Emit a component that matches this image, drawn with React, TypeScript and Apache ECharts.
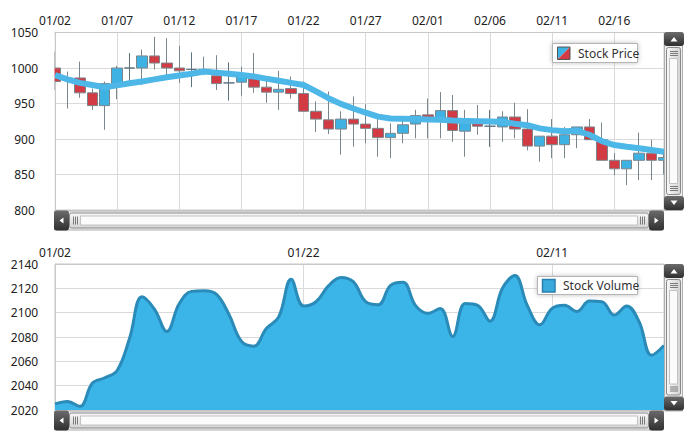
import React, { useEffect, useRef } from "react";
import * as echarts from "echarts";

const dates = [
  "01/02","01/03","01/04","01/05","01/06","01/07","01/08","01/09","01/10","01/11",
  "01/12","01/13","01/14","01/15","01/16","01/17","01/18","01/19","01/20","01/21",
  "01/22","01/23","01/24","01/25","01/26","01/27","01/28","01/29","01/30","01/31",
  "02/01","02/02","02/03","02/04","02/05","02/06","02/07","02/08","02/09","02/10",
  "02/11","02/12","02/13","02/14","02/15","02/16","02/17","02/18","02/19","02/20",
];

// [open, close, low, high]
const prices = [
  [1000, 981, 969, 1023], [986, 984, 943, 995], [986, 965, 958, 1009], [965, 947, 941, 971],
  [947, 978, 913, 981], [978, 1000, 956, 1003], [1000, 1000, 979, 1021], [1000, 1017, 976, 1026],
  [1017, 1007, 998, 1044], [1007, 1000, 989, 1042], [1000, 996, 979, 1031], [998, 998, 973, 1022],
  [998, 995, 990, 1016], [989, 978, 969, 1018], [979, 979, 954, 1008], [980, 990, 961, 1002],
  [985, 973, 965, 1021], [973, 966, 951, 983], [966, 970, 941, 996], [971, 964, 957, 988],
  [964, 939, 939, 981], [939, 928, 910, 953], [927, 914, 907, 967], [914, 928, 878, 939],
  [928, 921, 889, 960], [921, 915, 894, 949], [915, 902, 875, 931], [902, 908, 873, 922],
  [908, 920, 894, 927], [921, 933, 901, 941], [934, 929, 901, 957], [926, 940, 901, 966],
  [940, 912, 896, 962], [911, 928, 875, 941], [922, 918, 906, 948], [918, 918, 889, 941],
  [917, 931, 896, 939], [931, 914, 901, 951], [914, 890, 884, 942], [890, 904, 868, 904],
  [904, 892, 873, 928], [892, 906, 873, 917], [906, 917, 887, 917], [917, 899, 899, 928],
  [899, 870, 870, 923], [870, 858, 849, 880], [858, 870, 835, 870], [870, 880, 842, 909],
  [880, 870, 842, 899], [870, 874, 850, 885],
];

const movingAvg = [
  990, 984, 979, 976, 973, 975.5, 978.5, 981, 984, 987,
  989.5, 992, 995, 993.5, 992, 990, 988, 985, 982, 979,
  976, 967, 957.5, 949.5, 943, 937, 931.5, 929, 928.5, 928,
  927.5, 927, 926, 925.5, 925, 924.5, 924, 921.5, 919.5, 915,
  912.5, 911, 911.5, 906, 897, 891.5, 889, 887, 884.5, 882,
];

const volumes = [
  2025, 2027, 2023, 2042, 2046.5, 2052.5, 2079, 2113, 2103, 2084.5,
  2107.5, 2117.5, 2118, 2115, 2098.5, 2076.5, 2072.5, 2087, 2096.5, 2127.5,
  2105.5, 2109, 2122, 2129, 2125.5, 2109, 2106.5, 2122.5, 2125, 2106,
  2099.5, 2103.5, 2080.5, 2107.5, 2106, 2093, 2120, 2130.5, 2106, 2090,
  2103.5, 2106, 2101, 2109.5, 2109, 2098, 2105.5, 2092.5, 2065, 2073,
];

const priceTicks = { min: 800, max: 1050, interval: 50 };
const volumeTicks = { min: 2020, max: 2140, interval: 20 };

const FONT = '"Noto Sans", sans-serif';

function darkGrad() {
  return new echarts.graphic.LinearGradient(0, 0, 0, 1, [
    { offset: 0, color: "#6b6b6b" },
    { offset: 1, color: "#2f2f2f" },
  ]);
}

function hScroll(y: number): any[] {
  const els: any[] = [];
  els.push({ type: "rect", shape: { x: 54.5, y: y + 0.5, width: 609, height: 19 }, style: { fill: "#ededed", stroke: "#b0b0b0", lineWidth: 1 } });
  els.push({
    type: "rect",
    shape: { x: 69.5, y: y + 2.5, width: 579, height: 15, r: 2 },
    style: {
      fill: new echarts.graphic.LinearGradient(0, 0, 0, 1, [
        { offset: 0, color: "#f7f7f7" },
        { offset: 1, color: "#d4d4d4" },
      ]),
      stroke: "#8a8a8a",
      lineWidth: 1,
    },
  });
  els.push({ type: "rect", shape: { x: 80.5, y: y + 5.5, width: 557, height: 9 }, style: { fill: "#fbfbfb", stroke: "#c2c2c2", lineWidth: 1 } });
  [73.5, 75.5, 77.5, 640.5, 642.5, 644.5].forEach((gx) =>
    els.push({ type: "line", shape: { x1: gx, y1: y + 6, x2: gx, y2: y + 14 }, style: { stroke: "#7a7a7a", lineWidth: 1 } })
  );
  els.push({ type: "rect", shape: { x: 54, y: y, width: 15, height: 20, r: 3 }, style: { fill: darkGrad() } });
  els.push({ type: "polygon", shape: { points: [[63.5, y + 7], [63.5, y + 13], [59.5, y + 10]] }, style: { fill: "#ffffff" } });
  els.push({ type: "rect", shape: { x: 649, y: y, width: 15, height: 20, r: 3 }, style: { fill: darkGrad() } });
  els.push({ type: "polygon", shape: { points: [[654.5, y + 7], [654.5, y + 13], [658.5, y + 10]] }, style: { fill: "#ffffff" } });
  return els;
}

function vScroll(top: number, bottom: number): any[] {
  const els: any[] = [];
  const h = bottom - top;
  els.push({ type: "rect", shape: { x: 664.5, y: top + 0.5, width: 18, height: h }, style: { fill: "#ededed", stroke: "#b0b0b0", lineWidth: 1 } });
  els.push({
    type: "rect",
    shape: { x: 666.5, y: top + 15.5, width: 14, height: h - 31, r: 2 },
    style: {
      fill: new echarts.graphic.LinearGradient(0, 0, 1, 0, [
        { offset: 0, color: "#f7f7f7" },
        { offset: 1, color: "#d4d4d4" },
      ]),
      stroke: "#8a8a8a",
      lineWidth: 1,
    },
  });
  els.push({ type: "rect", shape: { x: 669.5, y: top + 26.5, width: 8, height: h - 53 }, style: { fill: "#fbfbfb", stroke: "#c2c2c2", lineWidth: 1 } });
  [top + 19.5, top + 21.5, top + 23.5, bottom - 23.5, bottom - 21.5, bottom - 19.5].forEach((gy) =>
    els.push({ type: "line", shape: { x1: 670, y1: gy, x2: 678, y2: gy }, style: { stroke: "#7a7a7a", lineWidth: 1 } })
  );
  els.push({ type: "rect", shape: { x: 664, y: top, width: 20, height: 14, r: 3 }, style: { fill: darkGrad() } });
  els.push({ type: "polygon", shape: { points: [[670.5, top + 9.5], [677.5, top + 9.5], [674, top + 5]] }, style: { fill: "#ffffff" } });
  els.push({ type: "rect", shape: { x: 664, y: bottom - 14, width: 20, height: 14, r: 3 }, style: { fill: darkGrad() } });
  els.push({ type: "polygon", shape: { points: [[670.5, bottom - 9.5], [677.5, bottom - 9.5], [674, bottom - 5]] }, style: { fill: "#ffffff" } });
  return els;
}

function legendBox(x: number, y: number, w: number, h: number): any {
  return {
    type: "rect",
    shape: { x: x + 0.5, y: y + 0.5, width: w, height: h },
    style: { fill: "#ffffff", stroke: "#b4b4b4", lineWidth: 1, shadowBlur: 5, shadowColor: "rgba(0,0,0,0.25)" },
  };
}

export default function App() {
  const ref = useRef<HTMLDivElement>(null);

  useEffect(() => {
    document.body.style.margin = "0";
    if (!ref.current) return;
    const chart = echarts.init(ref.current, null, { renderer: "svg" });

    const axisLabel = { color: "#222", fontSize: 12, fontFamily: FONT };
    const gridLine = { show: true, lineStyle: { color: "#dadada", width: 1 } };
    const plain = (v: number) => String(v);

    const graphics: any[] = [
      // mask for candle overflow left of the plot
      { type: "rect", shape: { x: 42, y: 33, width: 12.5, height: 177 }, style: { fill: "#ffffff" } },
      ...hScroll(210.5),
      ...vScroll(32, 210),
      ...hScroll(410.5),
      ...vScroll(264, 410.5),
      legendBox(552, 43, 85, 19),
      {
        type: "polygon",
        shape: { points: [[557.5, 47], [570, 47], [557.5, 59.5]] },
        style: { fill: "#3fb2e4" },
      },
      {
        type: "polygon",
        shape: { points: [[570, 47], [570, 59.5], [557.5, 59.5]] },
        style: { fill: "#d23a44" },
      },
      { type: "rect", shape: { x: 557.5, y: 47, width: 12.5, height: 12.5 }, style: { fill: "none", stroke: "#555", lineWidth: 1 } },
      {
        type: "text",
        x: 578,
        y: 53.5,
        style: { text: "Stock Price", fill: "#333", font: `12px ${FONT}`, verticalAlign: "middle", align: "left" },
      },
      legendBox(537, 276, 100, 18),
      { type: "rect", shape: { x: 542.5, y: 279.5, width: 12.5, height: 12.5 }, style: { fill: "#3aa9dc", stroke: "#2a7fae", lineWidth: 1.5 } },
      {
        type: "text",
        x: 563,
        y: 285.5,
        style: { text: "Stock Volume", fill: "#333", font: `12px ${FONT}`, verticalAlign: "middle", align: "left" },
      },
    ].map((el, i) => ({ ...el, z: 100 + i }));

    chart.setOption({
      animation: false,
      backgroundColor: "#ffffff",
      grid: [
        { left: 55, top: 32.5, width: 609, height: 177.5, show: true, borderColor: "#c8c8c8", borderWidth: 1 },
        { left: 55, top: 264, width: 609, height: 146, show: true, borderColor: "#c8c8c8", borderWidth: 1 },
      ],
      xAxis: [
        {
          gridIndex: 0,
          type: "category",
          data: dates,
          position: "top",
          boundaryGap: false,
          axisLine: { show: true, lineStyle: { color: "#c8c8c8" } },
          axisTick: { show: false },
          axisLabel: { ...axisLabel, interval: 4, margin: 6 },
          splitLine: { ...gridLine, interval: 4 },
        },
        {
          gridIndex: 1,
          type: "category",
          data: dates,
          position: "top",
          boundaryGap: false,
          axisLine: { show: true, lineStyle: { color: "#c8c8c8" } },
          axisTick: { show: false },
          axisLabel: { ...axisLabel, interval: 19, margin: 6 },
          splitLine: { ...gridLine, interval: 19 },
        },
      ],
      yAxis: [
        {
          gridIndex: 0,
          type: "value",
          min: priceTicks.min,
          max: priceTicks.max,
          interval: priceTicks.interval,
          axisLine: { show: true, lineStyle: { color: "#c8c8c8" } },
          axisTick: { show: false },
          axisLabel: { ...axisLabel, align: "center", margin: 30.5, formatter: plain },
          splitLine: gridLine,
        },
        {
          gridIndex: 1,
          type: "value",
          min: volumeTicks.min,
          max: volumeTicks.max,
          interval: volumeTicks.interval,
          axisLine: { show: true, lineStyle: { color: "#c8c8c8" } },
          axisTick: { show: false },
          axisLabel: { ...axisLabel, align: "center", margin: 30.5, formatter: plain },
          splitLine: gridLine,
        },
      ],
      series: [
        {
          type: "candlestick",
          name: "Stock Price",
          xAxisIndex: 0,
          yAxisIndex: 0,
          data: prices,
          barWidth: 11,
          clip: true,
          itemStyle: {
            color: "#3fb2e4",
            color0: "#d23a44",
            borderColor: "#7b868c",
            borderColor0: "#7b868c",
            borderColorDoji: "#5f7480",
            borderWidth: 1,
          },
        },
        {
          type: "line",
          name: "Average",
          xAxisIndex: 0,
          yAxisIndex: 0,
          data: movingAvg,
          symbol: "none",
          z: 5,
          clip: true,
          lineStyle: { color: "#4db7e7", width: 6, join: "round" },
        },
        {
          type: "line",
          name: "Stock Volume",
          xAxisIndex: 1,
          yAxisIndex: 1,
          data: volumes,
          smooth: 0.4,
          symbol: "none",
          clip: true,
          lineStyle: { color: "#2a8ab8", width: 3 },
          areaStyle: { color: "#3bb4e8", opacity: 1 },
        },
      ],
      graphic: graphics,
    });

    return () => chart.dispose();
  }, []);

  return <div ref={ref} style={{ width: 693, height: 438 }} />;
}
